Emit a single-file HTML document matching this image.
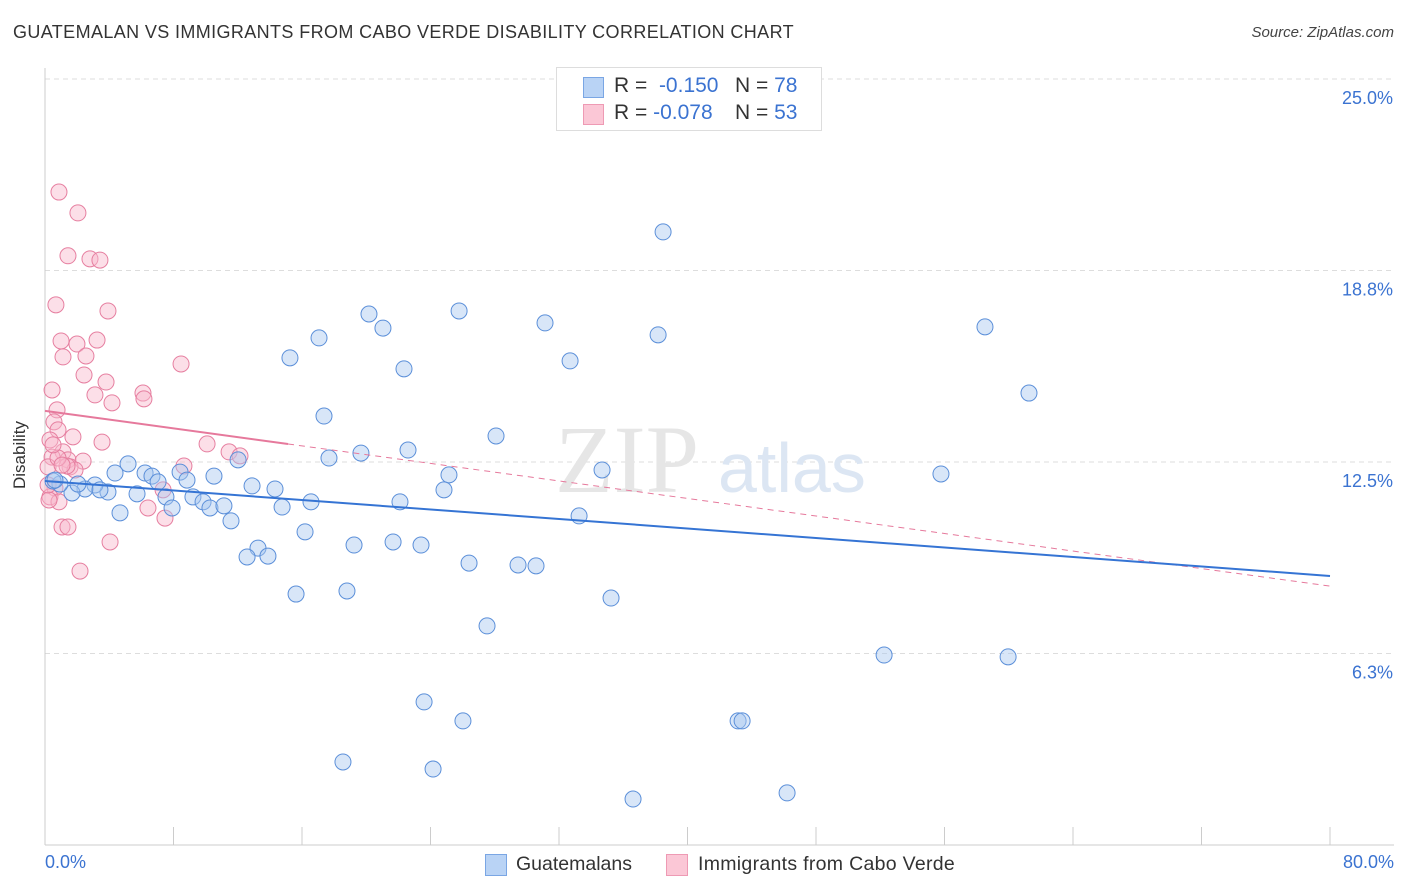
<!DOCTYPE html>
<html><head><meta charset="utf-8"><style>
body{margin:0;background:#fff;font-family:"Liberation Sans",sans-serif;}
#wrap{position:relative;width:1406px;height:892px;overflow:hidden;}
.t{position:absolute;white-space:nowrap;}
</style></head><body><div id="wrap">
<div class="t" style="left:13px;top:22px;font-size:18px;color:#333;letter-spacing:0.38px;">GUATEMALAN VS IMMIGRANTS FROM CABO VERDE DISABILITY CORRELATION CHART</div>
<div class="t" style="right:12px;top:24px;font-size:15px;color:#444;font-style:italic;">Source: ZipAtlas.com</div>
<svg id="svg" width="1406" height="892" style="position:absolute;left:0;top:0"></svg>
</div>
<script>
const yTicks=[25,18.75,12.5,6.25];
const yTickLabels=["25.0%","18.8%","12.5%","6.3%"];
const blueX=[38.48,58.52,61.26,25.78,31.13,20.17,21.04,17.06,15.25,32.69,38.17,22.35,17.37,28.08,22.60,19.67,17.68,34.68,25.15,55.78,12.02,5.17,6.23,6.66,4.36,8.41,10.52,7.04,8.84,7.53,5.73,3.92,3.11,2.49,1.68,0.93,0.50,2.05,9.21,9.84,10.27,11.14,11.58,7.91,4.67,12.89,14.32,14.76,16.56,22.10,24.84,33.25,16.19,19.24,21.67,23.41,13.26,12.58,13.88,26.40,29.45,30.57,15.63,18.80,35.24,27.52,52.24,59.96,23.60,26.02,43.15,43.40,18.55,24.16,36.61,46.20,3.42,0.62];
const blueY=[20.01,16.91,14.75,17.43,17.04,17.33,16.87,16.55,15.90,15.80,16.65,15.54,14.00,13.35,12.89,12.79,12.63,12.24,12.08,12.11,12.57,12.44,12.14,12.04,12.14,12.17,12.04,11.85,11.91,11.36,11.46,11.52,11.75,11.62,11.49,11.78,11.88,11.78,11.36,11.20,11.00,11.07,10.58,11.00,10.84,11.72,11.62,11.03,11.20,11.20,11.59,10.74,10.22,9.79,9.89,9.79,9.69,9.40,9.43,9.20,9.14,9.11,8.19,8.29,8.06,7.15,6.20,6.14,4.67,4.05,4.05,4.05,2.71,2.48,1.50,1.70,11.59,11.91];
const pinkX=[0.87,2.05,1.43,2.80,3.42,0.68,3.92,1.00,1.99,3.24,2.55,1.12,8.47,2.43,3.80,0.44,3.11,6.10,6.16,4.17,0.75,0.56,0.81,1.74,3.55,0.31,10.09,11.46,12.14,1.12,0.44,1.43,2.37,8.65,1.56,1.87,1.37,7.35,0.62,0.31,0.87,6.41,1.06,1.43,7.47,4.05,2.18,0.19,0.25,0.81,1.06,0.19,0.50];
const pinkY=[21.31,20.63,19.23,19.13,19.09,17.63,17.43,16.45,16.35,16.48,15.96,15.93,15.70,15.34,15.11,14.85,14.69,14.75,14.56,14.43,14.20,13.81,13.55,13.32,13.15,13.22,13.09,12.83,12.70,12.83,12.66,12.57,12.53,12.37,12.34,12.24,12.37,11.59,11.65,11.36,11.20,11.00,10.38,10.38,10.67,9.89,8.94,12.34,11.26,12.63,12.40,11.75,13.06];
const blueTrend=[11.88,8.78];
const pinkTrend=[14.17,8.45];
const pinkSolidEnd=15.13;

const X0=45,X1=1330,Y0=845,Y25=79;
const sx=v=>X0+(X1-X0)*v/80;
const sy=v=>Y0-(Y0-Y25)*v/25;
const svg=document.getElementById('svg');const NS='http://www.w3.org/2000/svg';
function mk(tag,attrs,parent){const e=document.createElementNS(NS,tag);for(const k in attrs)e.setAttribute(k,attrs[k]);(parent||svg).appendChild(e);return e;}
yTicks.forEach((v,i)=>{
 const g=mk('line',{x1:X0,x2:1394,y1:sy(v),y2:sy(v),stroke:'#ddd','stroke-dasharray':'5,4'});
 
 
 const t=mk('text',{x:1393,y:sy(v)+25,'text-anchor':'end','font-size':18,fill:'#3b73d1','font-family':'Liberation Sans, sans-serif'});
 t.textContent=yTickLabels[i];
 
 
});
const ax=mk('line',{x1:X0,x2:X0,y1:68,y2:Y0,stroke:'#ccc'});


const bx=mk('line',{x1:X0,x2:1394,y1:Y0,y2:Y0,stroke:'#ccc'});


for(let i=1;i<=10;i++){const tk=mk('line',{x1:sx(i*8),x2:sx(i*8),y1:827,y2:Y0,stroke:'#ccc'});
 
 }
const wm=mk('text',{x:555,y:492,'font-size':96,fill:'#e6e6e6','font-family':'Liberation Serif, serif'});wm.textContent='ZIP';


const wm2=mk('text',{x:718,y:492,'font-size':70,fill:'#dce6f3','font-family':'Liberation Sans, sans-serif'});wm2.textContent='atlas';


function pts(xs,ys,fill,stroke,name){xs.forEach((x,i)=>{const c=mk('circle',{cx:sx(x),cy:sy(ys[i]),r:8,fill:fill,stroke:stroke,'stroke-width':1,'fill-opacity':0.45});
 
 });}
pts(pinkX,pinkY,'#f9b8cb','#e67fa0','cabo-verde-point');
pts(blueX,blueY,'#a9c8f0','#5b8fd9','guatemalan-point');
const ptLine=v=>pinkTrend[0]+(pinkTrend[1]-pinkTrend[0])*v/80;
const pd=mk('line',{x1:sx(pinkSolidEnd),y1:sy(ptLine(pinkSolidEnd)),x2:sx(80),y2:sy(pinkTrend[1]),stroke:'#e6799c','stroke-width':1,'stroke-dasharray':'6,5'});


const ps=mk('line',{x1:sx(0),y1:sy(pinkTrend[0]),x2:sx(pinkSolidEnd),y2:sy(ptLine(pinkSolidEnd)),stroke:'#e6799c','stroke-width':2});


const bl=mk('line',{x1:sx(0),y1:sy(blueTrend[0]),x2:sx(80),y2:sy(blueTrend[1]),stroke:'#3574d4','stroke-width':2});


</script>
<div class="t" style="left:-14px;top:445px;font-size:17px;color:#333;transform:rotate(-90deg);">Disability</div>
<div class="t" style="left:45px;top:852px;font-size:18px;color:#3b73d1;">0.0%</div>
<div class="t" style="right:12px;top:852px;font-size:18px;color:#3b73d1;">80.0%</div>
<div style="position:absolute;left:556px;top:67px;width:264px;height:62px;border:1px solid #ddd;background:#fff;font-size:21px;">
 <div style="position:absolute;left:26px;top:9px;width:19px;height:19px;background:#b9d3f5;border:1px solid #7aa6e4"></div>
 <div class="t" style="left:57px;top:6px;color:#333">R = <span style="color:#3b73d1">&nbsp;-0.150</span></div>
 <div class="t" style="left:178px;top:6px;color:#333">N = <span style="color:#3b73d1">78</span></div>
 <div style="position:absolute;left:26px;top:36px;width:19px;height:19px;background:#fbc7d6;border:1px solid #ee9ab4"></div>
 <div class="t" style="left:57px;top:33px;color:#333">R = <span style="color:#3b73d1">-0.078</span></div>
 <div class="t" style="left:178px;top:33px;color:#333">N = <span style="color:#3b73d1">53</span></div>
</div>
<div style="position:absolute;left:485px;top:853px;font-size:19.5px;color:#333;">
 <div style="position:absolute;left:0;top:1px;width:20px;height:20px;background:#b9d3f5;border:1px solid #7aa6e4"></div>
 <div class="t" style="left:31px;top:0">Guatemalans</div></div>
<div style="position:absolute;left:666px;top:853px;font-size:19.5px;color:#333;">
 <div style="position:absolute;left:0;top:1px;width:20px;height:20px;background:#fbc7d6;border:1px solid #ee9ab4"></div>
 <div class="t" style="left:32px;top:0;letter-spacing:0.3px">Immigrants from Cabo Verde</div></div>
</body></html>
